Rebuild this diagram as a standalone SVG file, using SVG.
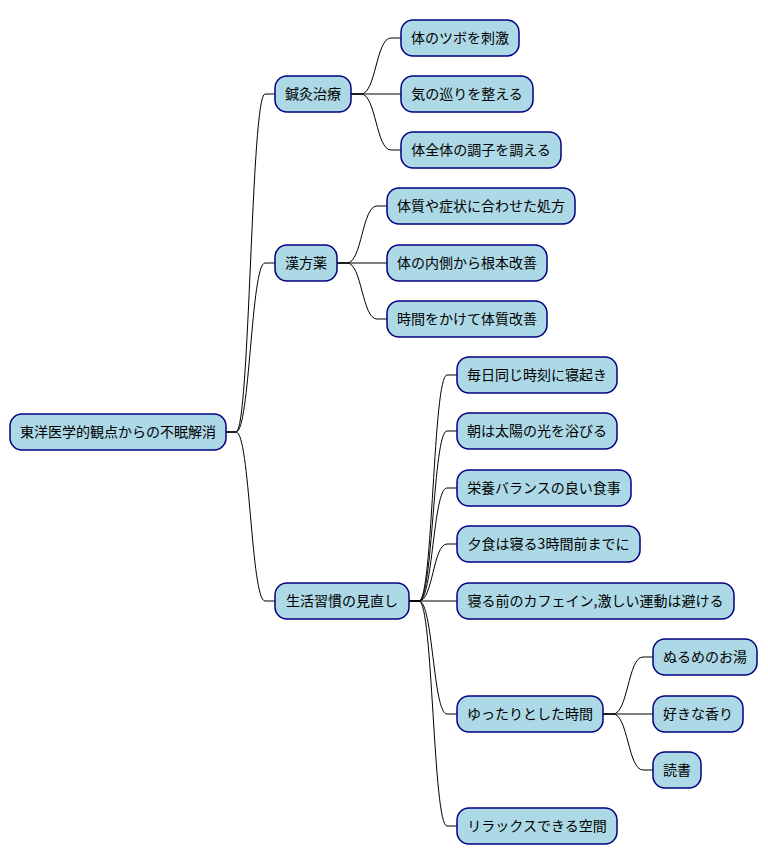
<svg xmlns="http://www.w3.org/2000/svg" width="768" height="865" viewBox="0 0 768 865">
<style>
.n rect{fill:#ADD8E6;stroke:#000080;stroke-width:1.5}
.n text{font-family:"Noto Sans CJK JP","DejaVu Sans",sans-serif;font-size:14px;fill:#000;text-anchor:middle}
#edges path{fill:none;stroke:#000;stroke-width:1}
</style>
<rect width="768" height="865" fill="#fff"/>
<g id="edges">
<path d="M226 432 L236 432 C250 432 251 94 265 94 L275 94"/>
<path d="M226 432 L236 432 C250 432 251 263 265 263 L275 263"/>
<path d="M226 432 L236 432 C250 432 251 601 265 601 L275 601"/>
<path d="M351 94 L361 94 C376 94 376 38 391 38 L401 38"/>
<path d="M351 94 L401 94"/>
<path d="M351 94 L361 94 C376 94 376 150 391 150 L401 150"/>
<path d="M337 263 L347 263 C362 263 362 206 377 206 L387 206"/>
<path d="M337 263 L387 263"/>
<path d="M337 263 L347 263 C362 263 362 319 377 319 L387 319"/>
<path d="M409 601 L419 601 C433 601 433 375 447 375 L457 375"/>
<path d="M409 601 L419 601 C433 601 433 431 447 431 L457 431"/>
<path d="M409 601 L419 601 C433 601 433 488 447 488 L457 488"/>
<path d="M409 601 L419 601 C433 601 433 544 447 544 L457 544"/>
<path d="M409 601 L457 601"/>
<path d="M409 601 L419 601 C433 601 433 714 447 714 L457 714"/>
<path d="M409 601 L419 601 C433 601 433 826 447 826 L457 826"/>
<path d="M603 714 L613 714 C628 714 628 657 643 657 L653 657"/>
<path d="M603 714 L653 714"/>
<path d="M603 714 L613 714 C628 714 628 770 643 770 L653 770"/>
</g>
<g id="root" class="n"><rect x="10" y="414" width="216" height="36" rx="12"/><text x="118" y="437">東洋医学的観点からの不眠解消</text></g>
<g id="n1" class="n"><rect x="275" y="76" width="76" height="36" rx="12"/><text x="313" y="99">鍼灸治療</text></g>
<g id="n1a" class="n"><rect x="401" y="20" width="118" height="36" rx="12"/><text x="460" y="43">体のツボを刺激</text></g>
<g id="n1b" class="n"><rect x="401" y="76" width="132" height="36" rx="12"/><text x="467" y="99">気の巡りを整える</text></g>
<g id="n1c" class="n"><rect x="401" y="132" width="160" height="36" rx="12"/><text x="481" y="155">体全体の調子を調える</text></g>
<g id="n2" class="n"><rect x="275" y="245" width="62" height="36" rx="12"/><text x="306" y="268">漢方薬</text></g>
<g id="n2a" class="n"><rect x="387" y="188" width="188" height="36" rx="12"/><text x="481" y="211">体質や症状に合わせた処方</text></g>
<g id="n2b" class="n"><rect x="387" y="245" width="160" height="36" rx="12"/><text x="467" y="268">体の内側から根本改善</text></g>
<g id="n2c" class="n"><rect x="387" y="301" width="160" height="36" rx="12"/><text x="467" y="324">時間をかけて体質改善</text></g>
<g id="n3" class="n"><rect x="275" y="583" width="134" height="36" rx="12"/><text x="342" y="606">生活習慣の見直し</text></g>
<g id="n3a" class="n"><rect x="457" y="357" width="160" height="36" rx="12"/><text x="537" y="380">毎日同じ時刻に寝起き</text></g>
<g id="n3b" class="n"><rect x="457" y="413" width="160" height="36" rx="12"/><text x="537" y="436">朝は太陽の光を浴びる</text></g>
<g id="n3c" class="n"><rect x="457" y="470" width="174" height="36" rx="12"/><text x="544" y="493">栄養バランスの良い食事</text></g>
<g id="n3d" class="n"><rect x="457" y="526" width="183" height="36" rx="12"/><text x="548.5" y="549">夕食は寝る3時間前までに</text></g>
<g id="n3e" class="n"><rect x="457" y="583" width="277" height="36" rx="12"/><text x="595.5" y="606">寝る前のカフェイン,激しい運動は避ける</text></g>
<g id="n3f" class="n"><rect x="457" y="696" width="146" height="36" rx="12"/><text x="530" y="719">ゆったりとした時間</text></g>
<g id="n3f1" class="n"><rect x="653" y="639" width="104" height="36" rx="12"/><text x="705" y="662">ぬるめのお湯</text></g>
<g id="n3f2" class="n"><rect x="653" y="696" width="90" height="36" rx="12"/><text x="698" y="719">好きな香り</text></g>
<g id="n3f3" class="n"><rect x="653" y="752" width="48" height="36" rx="12"/><text x="677" y="775">読書</text></g>
<g id="n3g" class="n"><rect x="457" y="808" width="160" height="36" rx="12"/><text x="537" y="831">リラックスできる空間</text></g>
</svg>
